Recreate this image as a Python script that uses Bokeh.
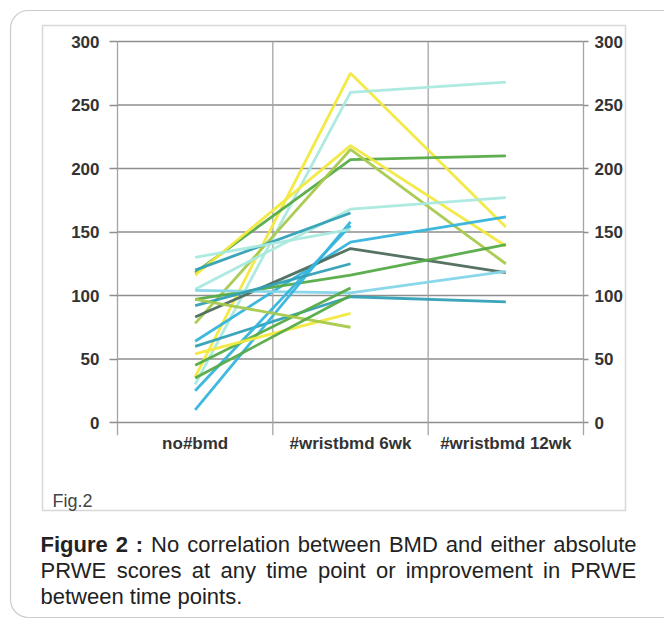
from bokeh.plotting import figure
from bokeh.models import Range1d, LinearAxis, FixedTicker, BoxAnnotation, Label
from bokeh.embed import file_html
from bokeh.resources import INLINE

# ---------------- data ----------------
categories = ["no#bmd", "#wristbmd 6wk", "#wristbmd 12wk"]
y_ticks = [0, 50, 100, 150, 200, 250, 300]

s01 = [36, 275, 154]
s02 = [30, 260, 268]
s03 = [118, 207, 210]
s04 = [116, 218, 139]
s05 = [78, 215, 125]
s06 = [105, 168, 177]
s07 = [64, 142, 162]
s08 = [83, 137, 118]
s09 = [97, 116, 140]
s10 = [104, 102, 119]
s11 = [60, 99, 95]
s12 = [120, 165]
s13 = [10, 158]
s14 = [25, 155]
s15 = [130, 152]
s16 = [92, 125]
s17 = [45, 106]
s18 = [54, 86]
s19 = [97, 75]
s20 = [35, 100]

series = [s01, s02, s03, s04, s05, s06, s07, s08, s09, s10,
          s11, s12, s13, s14, s15, s16, s17, s18, s19, s20]

YEL, AQU, GRN, YGR, BLU, TEA, DKG, LBL = ("#f2e93e", "#a9e9dd", "#55ab46", "#a6c94c",
                                          "#36b4dc", "#32a0b5", "#4d6b5b", "#84d5e9")
colors = [YEL, AQU, GRN, YEL, YGR, AQU, BLU, DKG, GRN, LBL,
          TEA, TEA, BLU, BLU, AQU, TEA, GRN, YEL, YGR, GRN]

caption_lines = [
    [("Figure 2 :", True), ("No correlation between BMD and either absolute", False)],
    [("PRWE scores at any time point or improvement in PRWE", False)],
    [("between time points.", False)],
]

# ---------------- layout (page pixels) ----------------
W, H = 664, 620
PL, PR, PT, PB = 117, 583, 41, 422      # chart plotting box
VMIN, VMAX = 0, 300
NC = len(categories)

def px_to_cat(x):
    return (x - PL) * NC / (PR - PL)

def py_to_val(y):
    return VMIN + (PB - y) * (VMAX - VMIN) / (PB - PT)

p = figure(width=W, height=H, output_backend="svg", toolbar_location=None,
           x_range=Range1d(0, W), y_range=Range1d(H, 0),
           x_axis_location=None, y_axis_location=None,
           min_border=0, min_border_left=0, min_border_right=0,
           min_border_top=0, min_border_bottom=0)
p.outline_line_color = None
p.background_fill_color = "white"
p.border_fill_color = "white"
p.xgrid.visible = False
p.ygrid.visible = False
p.extra_x_ranges = {"cat": Range1d(px_to_cat(0), px_to_cat(W))}
p.extra_y_ranges = {"val": Range1d(py_to_val(H), py_to_val(0))}

# decorations: outer rounded panel and figure frame
box_kw = dict(fill_color=None, fill_alpha=0)
p.add_layout(BoxAnnotation(left=10, right=760, top=10, bottom=617, line_color="#555555",
                           line_width=1.2, border_radius=18, **box_kw))
p.add_layout(BoxAnnotation(left=42, right=625, top=25, bottom=510, line_color="#7a7a7a",
                           line_width=1.5, **box_kw))

# grid lines (value ticks) and category boundaries
bounds = list(range(NC + 1))
p.segment(x0=[0] * len(y_ticks), x1=[NC] * len(y_ticks), y0=y_ticks, y1=y_ticks,
          x_range_name="cat", y_range_name="val",
          line_color="#8e8e8e", line_width=1.6)
p.segment(x0=bounds, x1=bounds, y0=[-10] * len(bounds), y1=[VMAX] * len(bounds),
          x_range_name="cat", y_range_name="val",
          line_color="#a4a4a4", line_width=1.3)

# axes
lab = dict(major_label_text_font="Liberation Sans", major_label_text_font_style="bold",
           major_label_text_font_size="17px", major_label_text_color="#333333")
left = LinearAxis(x_range_name="cat", y_range_name="val", fixed_location=0,
                  bounds=(VMIN, VMAX), ticker=FixedTicker(ticks=y_ticks),
                  axis_line_color=None, major_tick_line_color="#8e8e8e",
                  major_tick_line_width=1.4, major_tick_out=8, major_tick_in=0,
                  minor_tick_out=0, minor_tick_in=0, major_label_standoff=10, **lab)
right = LinearAxis(x_range_name="cat", y_range_name="val", fixed_location=NC,
                   bounds=(VMIN, VMAX), ticker=FixedTicker(ticks=y_ticks),
                   axis_line_color=None, major_tick_line_color="#8e8e8e",
                   major_tick_line_width=1.4, major_tick_out=5, major_tick_in=0,
                   minor_tick_out=0, minor_tick_in=0, major_label_standoff=6, **lab)
p.add_layout(left, "left")
p.add_layout(right, "right")

cat_pos = [i + 0.5 for i in range(NC)]
bottom = LinearAxis(x_range_name="cat", y_range_name="val", fixed_location=VMIN,
                    bounds=(0, NC), ticker=FixedTicker(ticks=cat_pos),
                    major_label_overrides={cp: c for cp, c in zip(cat_pos, categories)},
                    axis_line_color=None, major_tick_out=0, major_tick_in=0,
                    minor_tick_out=0, minor_tick_in=0, major_label_standoff=11, **lab)
p.add_layout(bottom, "below")

for vals, col in zip(series, colors):
    xs = cat_pos[:len(vals)]
    p.line(xs, vals, x_range_name="cat", y_range_name="val",
           line_color=col, line_width=2.8, line_alpha=0.95)

p.add_layout(Label(x=52, y=500, text="Fig.2", text_font="Liberation Sans",
                   text_font_size="18px", text_color="#444444",
                   text_baseline="alphabetic"))

# caption, justified (Arial / Liberation Sans advance widths per 1000 em)
REG = {' ': 278, ':': 278, '.': 278, '2': 556, 'F': 611, 'N': 722, 'B': 667, 'M': 833,
       'D': 722, 'P': 667, 'R': 722, 'W': 944, 'E': 667, 'a': 556, 'b': 556, 'c': 500,
       'd': 556, 'e': 556, 'f': 278, 'g': 556, 'h': 556, 'i': 222, 'l': 222, 'm': 833,
       'n': 556, 'o': 556, 'p': 556, 'r': 333, 's': 500, 't': 278, 'u': 556, 'v': 500,
       'w': 722, 'x': 500, 'y': 500}
BLD = {' ': 278, ':': 333, '2': 556, 'F': 611, 'i': 278, 'g': 611, 'u': 611, 'r': 389,
       'e': 556}
FS = 22.0
X0, X1 = 40, 636
baselines = [544, 570, 596]

def wwidth(word, bold):
    t = BLD if bold else REG
    return sum(t.get(ch, 556) for ch in word) * FS / 1000.0

for li, line in enumerate(caption_lines):
    words = []
    for txt, bold in line:
        for w in txt.split(" "):
            words.append((w, bold))
    justify = li < len(caption_lines) - 1
    total = sum(wwidth(w, b) for w, b in words)
    gap = (X1 - X0 - total) / (len(words) - 1) if justify else REG[' '] * FS / 1000.0
    x = X0
    for w, b in words:
        p.add_layout(Label(x=x, y=baselines[li], text=w, text_font="Liberation Sans",
                           text_font_size=f"{FS}px",
                           text_font_style="bold" if b else "normal",
                           text_color="#222222", text_baseline="alphabetic"))
        x += wwidth(w, b) + gap

open("out.html", "w").write(file_html(p, INLINE))
